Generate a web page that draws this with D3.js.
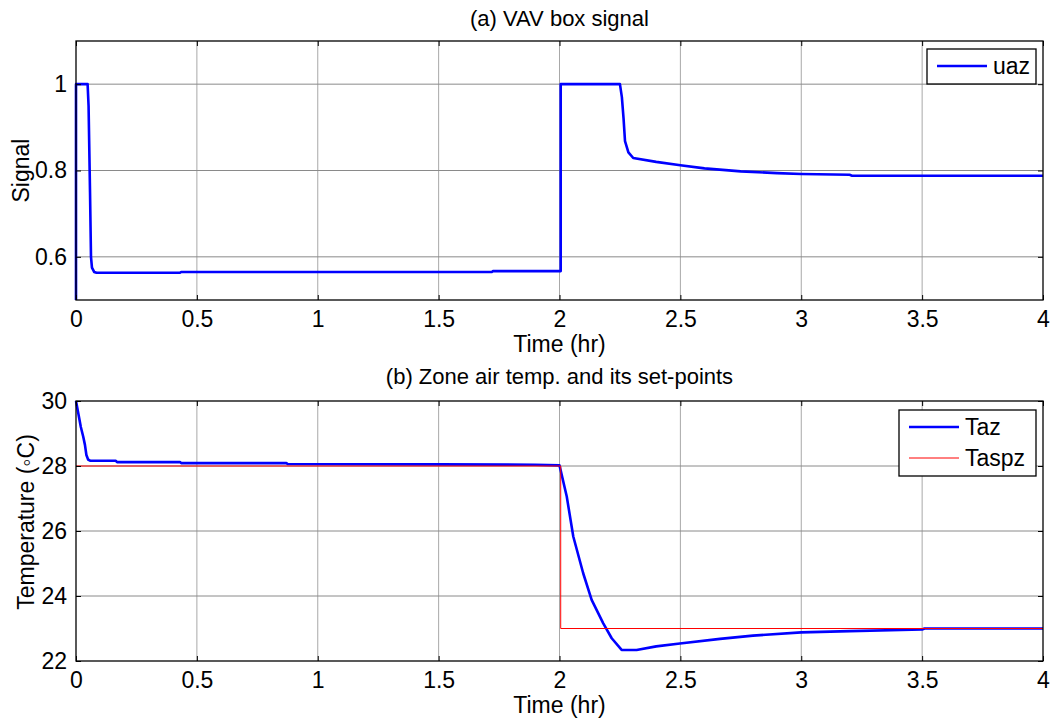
<!DOCTYPE html>
<html><head><meta charset="utf-8">
<script src="https://cdn.jsdelivr.net/npm/d3@7"></script>
<style>body{margin:0;background:#fff}svg text{font-family:"Liberation Sans",Arial,sans-serif;fill:#000}</style>
</head><body><svg id="c" width="1054" height="723"></svg>
<script>
const xTicks = [0, 0.5, 1, 1.5, 2, 2.5, 3, 3.5, 4];
const xTickLabels = ["0","0.5","1","1.5","2","2.5","3","3.5","4"];
const sigTicks = [0.6, 0.8, 1];
const sigTickLabels = ["0.6","0.8","1"];
const tempTicks = [22, 24, 26, 28, 30];
const tempTickLabels = ["22","24","26","28","30"];

// uaz: [time (hr), signal]
const uazT = [0,0,0.048,0.052,0.058,0.062,0.066,0.075,0.085,0.43,0.435,1.72,1.725,2.005,2.005,2.25,2.258,2.265,2.271,2.285,2.305,2.4,2.5,2.6,2.75,2.9,3.0,3.2,3.21,4];
const uazV = [0.5,1,1,0.95,0.75,0.6,0.575,0.565,0.563,0.563,0.565,0.565,0.567,0.567,1,1,0.97,0.92,0.868,0.842,0.829,0.82,0.812,0.805,0.798,0.794,0.792,0.79,0.788,0.788];

// Taz: zone air temperature
const tazT = [0,0.01,0.02,0.03,0.037,0.043,0.05,0.06,0.165,0.17,0.43,0.435,0.87,0.875,1.5,1.9,2.0,2.03,2.057,2.098,2.133,2.181,2.216,2.257,2.319,2.4,2.498,2.664,2.8,3.0,3.2,3.5,3.51,4];
const tazV = [30,29.6,29.2,28.9,28.65,28.34,28.2,28.16,28.16,28.12,28.12,28.09,28.09,28.06,28.05,28.04,28.02,27.06,25.83,24.7,23.88,23.16,22.7,22.34,22.34,22.45,22.54,22.68,22.78,22.88,22.92,22.97,23.0,23.0];

// Taspz: set-point
const spT = [0,2.005,2.005,4];
const spV = [28,28,23,23];

const svg = d3.select("#c");
const L = 76, R = 1043;
const FS = 23;
const x = d3.scaleLinear().domain([0,4]).range([L,R]);

function panel(top, bottom, yDomain, yTicks, yLabels, title, ylab, series, legend){
  const y = d3.scaleLinear().domain(yDomain).range([bottom, top]);
  const g = svg.append("g");
  g.selectAll(".vg").data(xTicks.slice(1,-1)).enter().append("line")
    .attr("x1",d=>x(d)).attr("x2",d=>x(d)).attr("y1",top).attr("y2",bottom)
    .attr("stroke","#a8a8a8").attr("stroke-width",1);
  g.selectAll(".hg").data(yTicks.filter(v=>v>yDomain[0]&&v<yDomain[1])).enter().append("line")
    .attr("x1",L).attr("x2",R).attr("y1",d=>y(d)).attr("y2",d=>y(d))
    .attr("stroke","#8a8a8a").attr("stroke-width",1);
  series.forEach(s=>{
    const pts = s.t.map((t,i)=>[t,s.v[i]]);
    g.append("path").datum(pts)
      .attr("d", d3.line().x(d=>x(d[0])).y(d=>y(d[1])))
      .attr("fill","none").attr("stroke",s.color).attr("stroke-width",s.w)
      .attr("stroke-linejoin","round");
  });
  const ax = d3.axisBottom(x).tickValues(xTicks).tickFormat((d,i)=>xTickLabels[i]).tickSizeInner(-5).tickSizeOuter(0).tickPadding(11);
  const gx = g.append("g").attr("transform",`translate(0,${bottom})`).call(ax);
  const axT = d3.axisTop(x).tickValues(xTicks).tickFormat("").tickSizeInner(-5).tickSizeOuter(0);
  const gxt = g.append("g").attr("transform",`translate(0,${top})`).call(axT);
  const ay = d3.axisLeft(y).tickValues(yTicks).tickFormat((d,i)=>yLabels[i]).tickSizeInner(-5).tickSizeOuter(0).tickPadding(9);
  const gy = g.append("g").attr("transform",`translate(${L},0)`).call(ay);
  const ayR = d3.axisRight(y).tickValues(yTicks).tickFormat("").tickSizeInner(-5).tickSizeOuter(0);
  const gyr = g.append("g").attr("transform",`translate(${R},0)`).call(ayR);
  [gx,gxt,gy,gyr].forEach(a=>{
    a.select(".domain").remove();
    a.selectAll("line").attr("stroke","#000");
    a.selectAll("text").attr("font-size",FS).attr("font-family","Liberation Sans, Arial, sans-serif").attr("fill","#000");
  });
  g.append("rect").attr("x",L).attr("y",top).attr("width",R-L).attr("height",bottom-top)
    .attr("fill","none").attr("stroke","#000").attr("stroke-width",1.3);
  g.append("text").attr("x",(L+R)/2).attr("y",top-legend.tOff).attr("text-anchor","middle").attr("font-size",22).text(title);
  g.append("text").attr("x",(L+R)/2).attr("y",bottom+52).attr("text-anchor","middle").attr("font-size",FS).text("Time (hr)");
  g.append("text").attr("transform",`translate(${legend.ylx},${(top+bottom)/2 + legend.yloff}) rotate(-90)`)
    .attr("text-anchor","middle").attr("font-size",FS).text(ylab);
  const lg = g.append("g");
  lg.append("rect").attr("x",legend.x).attr("y",legend.y).attr("width",legend.w).attr("height",legend.h)
    .attr("fill","#fff").attr("stroke","#000").attr("stroke-width",1.3);
  series.forEach((s,i)=>{
    const ly = legend.y + 17 + i*31;
    lg.append("line").attr("x1",legend.x+10).attr("x2",legend.x+60).attr("y1",ly).attr("y2",ly)
      .attr("stroke",s.color).attr("stroke-width",s.w);
    lg.append("text").attr("x",legend.x+66).attr("y",ly+8).attr("font-size",FS).text(s.name);
  });
}

panel(41, 300, [0.5,1.1], sigTicks, sigTickLabels, "(a) VAV box signal", "Signal",
  [{name:"uaz", t:uazT, v:uazV, color:"#0000ff", w:2.6}],
  {x:927, y:49, w:109, h:35, ylx:29, yloff:0, tOff:15});

panel(401, 661, [22,30], tempTicks, tempTickLabels, "(b) Zone air temp. and its set-points", "Temperature (\u25E6C)",
  [{name:"Taz", t:tazT, v:tazV, color:"#0000ff", w:2.6},
   {name:"Taspz", t:spT, v:spV, color:"#ff0000", w:1}],
  {x:899, y:410, w:137, h:66, ylx:34, yloff:-9, tOff:17});
</script></body></html>
